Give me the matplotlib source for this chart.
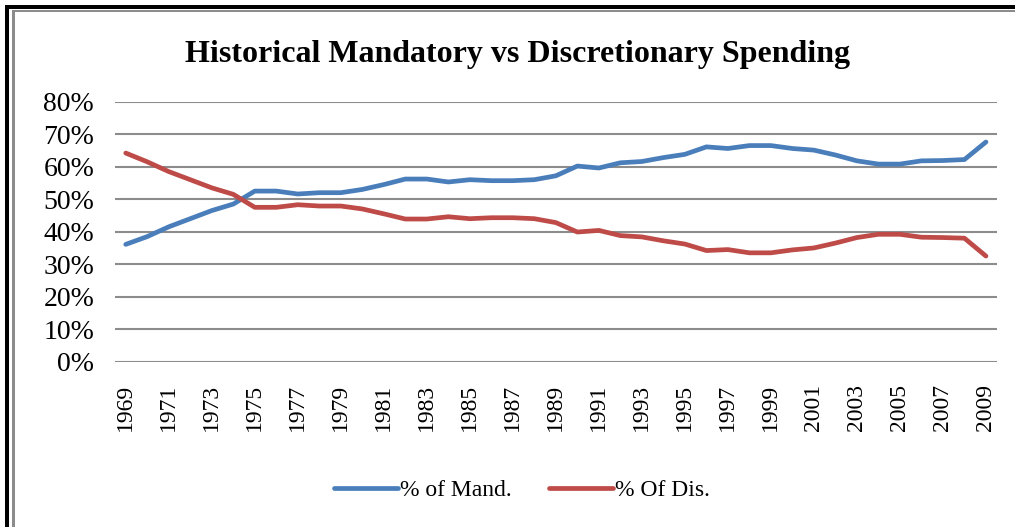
import matplotlib
matplotlib.use("Agg")
import matplotlib.pyplot as plt
from matplotlib.patches import Rectangle

years = list(range(1969, 2010))
mand = [36.1, 38.5, 41.5, 44.0, 46.5, 48.5, 52.5, 52.5, 51.6, 52.0, 52.0,
        53.0, 54.5, 56.2, 56.2, 55.3, 56.0, 55.7, 55.7, 56.0, 57.2, 60.2,
        59.6, 61.2, 61.6, 62.8, 63.8, 66.1, 65.6, 66.5, 66.5, 65.6, 65.1,
        63.6, 61.8, 60.8, 60.8, 61.8, 61.9, 62.2, 67.6]
disc = [64.2, 61.5, 58.5, 56.0, 53.5, 51.5, 47.5, 47.5, 48.3, 47.9, 47.9,
        47.0, 45.5, 43.9, 43.9, 44.6, 44.0, 44.3, 44.3, 44.0, 42.8, 39.9,
        40.4, 38.8, 38.4, 37.2, 36.2, 34.2, 34.5, 33.5, 33.5, 34.4, 35.0,
        36.5, 38.2, 39.2, 39.2, 38.3, 38.2, 38.0, 32.5]
series_names = ["% of Mand.", "% Of Dis."]
yticks = [0, 10, 20, 30, 40, 50, 60, 70, 80]
xtick_years = years[::2]

W, H = 1015, 527
plt.rcParams['font.family'] = ['Liberation Serif', 'DejaVu Serif']
fig = plt.figure(figsize=(W / 100, H / 100), dpi=100)

# frame: thick black + thin gray (image is cropped right/bottom)
def px_rect(x0, y0, x1, y1, color):
    fig.add_artist(Rectangle((x0 / W, 1 - y1 / H), (x1 - x0) / W, (y1 - y0) / H,
                             transform=fig.transFigure, color=color, lw=0))

px_rect(5, 5, W + 5, 9, 'black')
px_rect(5, 5, 9, H + 5, 'black')
px_rect(11.7, 10.2, W + 5, 12.4, '#8c8c8c')
px_rect(11.7, 10.2, 14.7, H + 5, '#8c8c8c')

ax = fig.add_axes([115 / W, 1 - 361.7 / H, (996.7 - 115) / W, (361.7 - 101.7) / H])
l1, = ax.plot(years, mand, color='#4a7ebb', lw=3.4, solid_capstyle='round')
l2, = ax.plot(years, disc, color='#be4b48', lw=3.4, solid_capstyle='round')

ax.set_xlim(1968.5, 2009.5)
ax.set_ylim(0, 80)
ax.set_yticks(yticks)
ax.set_yticklabels([f"{v}%" for v in yticks], fontsize=20)
ax.set_xticks(xtick_years)
ax.set_xticklabels([str(y) for y in xtick_years], rotation=90, fontsize=17)
ax.tick_params(axis='both', length=0)
ax.tick_params(axis='y', pad=15)
ax.tick_params(axis='x', pad=16)
ax.grid(axis='y', color='#8c8c8c', lw=1.5)
ax.set_axisbelow(True)
for s in ax.spines.values():
    s.set_visible(False)

fig.text(518 / W, 1 - 62 / H, "Historical Mandatory vs Discretionary Spending",
         ha='center', va='baseline', fontsize=23, fontweight='bold')

fig.legend([l1, l2], series_names, loc='center', bbox_to_anchor=(522 / W, 1 - 490 / H),
           ncol=2, frameon=False, fontsize=17, handlelength=2.7, handletextpad=0.1,
           columnspacing=1.6)

fig.savefig("out.png", dpi=100)
